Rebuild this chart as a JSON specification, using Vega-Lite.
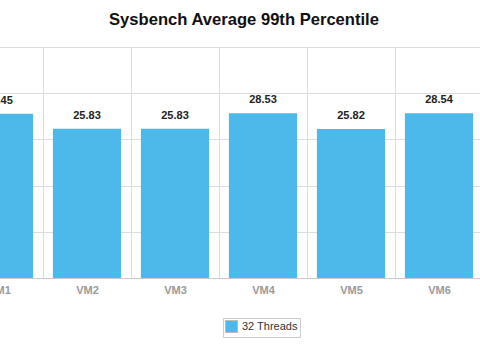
{
  "$schema": "https://vega.github.io/schema/vega-lite/v6.json",
  "autosize": "none",
  "padding": {"left": -45, "top": 47, "right": -3, "bottom": 66},
  "width": 528,
  "height": 231,
  "background": "white",
  "title": {
    "text": "Sysbench Average 99th Percentile",
    "font": "Liberation Sans",
    "fontSize": 16.6,
    "fontWeight": "bold",
    "color": "#111111",
    "anchor": "middle",
    "dx": 25,
    "offset": 5,
    "baseline": "alphabetic"
  },
  "data": {
    "values": [
      {"vm": "VM1", "value": 28.45, "series": "32 Threads"},
      {"vm": "VM2", "value": 25.83, "series": "32 Threads"},
      {"vm": "VM3", "value": 25.83, "series": "32 Threads"},
      {"vm": "VM4", "value": 28.53, "series": "32 Threads"},
      {"vm": "VM5", "value": 25.82, "series": "32 Threads"},
      {"vm": "VM6", "value": 28.54, "series": "32 Threads"}
    ]
  },
  "encoding": {
    "x": {
      "field": "vm",
      "type": "nominal",
      "sort": null,
      "scale": {"paddingInner": 0, "paddingOuter": 0},
      "axis": {
        "title": null,
        "labelAngle": 0,
        "labelFont": "Liberation Sans",
        "labelFontSize": 11,
        "labelFontWeight": "bold",
        "labelColor": "#999999",
        "labelPadding": 6,
        "ticks": false,
        "tickBand": "extent",
        "grid": true,
        "gridColor": "#dddddd",
        "domainColor": "#cccccc"
      }
    },
    "y": {
      "field": "value",
      "type": "quantitative",
      "scale": {"domain": [0, 40], "nice": false},
      "axis": {
        "title": null,
        "values": [0, 8, 16, 24, 32, 40],
        "labels": false,
        "ticks": false,
        "domain": false,
        "gridColor": "#dddddd"
      }
    }
  },
  "layer": [
    {
      "mark": {"type": "bar", "width": {"band": 0.775}},
      "encoding": {
        "color": {
          "field": "series",
          "type": "nominal",
          "scale": {"range": ["#4db9ea"]},
          "legend": {
            "title": null,
            "orient": "none",
            "legendX": 268,
            "legendY": 271,
            "symbolType": "square",
            "symbolSize": 144,
            "symbolStrokeColor": "#bbbbbb",
            "symbolStrokeWidth": 1,
            "labelFont": "Liberation Sans",
            "labelFontSize": 11,
            "labelColor": "#333333",
            "strokeColor": "#cccccc",
            "padding": 2
          }
        }
      }
    },
    {
      "mark": {
        "type": "text",
        "baseline": "bottom",
        "dy": -8,
        "font": "Liberation Sans",
        "fontSize": 11,
        "fontWeight": "bold",
        "color": "#222222"
      },
      "encoding": {
        "text": {"field": "value", "type": "quantitative", "format": ".2f"}
      }
    }
  ]
}
